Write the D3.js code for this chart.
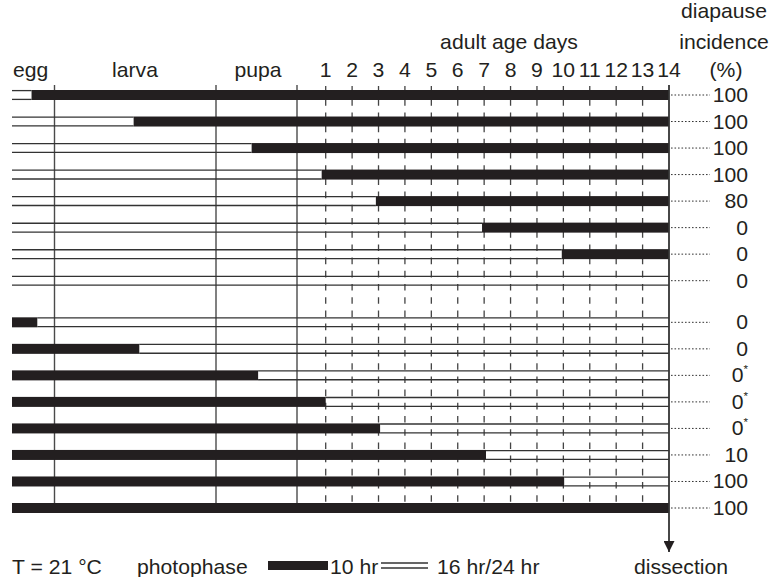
<!DOCTYPE html>
<html>
<head>
<meta charset="utf-8">
<script src="https://cdn.jsdelivr.net/npm/d3@7"></script>
<style>
  html, body { margin: 0; padding: 0; background: #fff; }
  svg { display: block; }
  text { font-family: "Liberation Sans", Arial, Helvetica, sans-serif; fill: #231f20; }
</style>
</head>
<body>
<svg id="chart" width="771" height="577"></svg>
<script>
// Timeline units: egg 0–1, larva 1–2, pupa 2–3, adult day d → 3 + d (dissection at day 14 → 17)
const stages = ["egg", "larva", "pupa"];
const stageBounds = [0, 1, 2, 3];
const adultDays = [1, 2, 3, 4, 5, 6, 7, 8, 9, 10, 11, 12, 13, 14];
const END = 17;

// Group A: long day (16 hr/24 hr) first, transferred to short day (10 hr) at the given point
const longToShortSwitch = [0.46, 1.49, 2.44, 3.86, 5.90, 9.92, 12.94, null];
const longToShortIncidence = ["100", "100", "100", "100", "80", "0", "0", "0"];

// Group B: short day (10 hr) first, transferred to long day at the given point
const shortToLongSwitch = [0.595, 1.525, 2.52, 4.0, 6.06, 10.07, 13.03, 17];
const shortToLongIncidence = ["0", "0", "0*", "0*", "0*", "10", "100", "100"];

const svg = d3.select("#chart");
const ink = "#231f20";
const lineCol = "#444";
const fs = 20, sx = 1.06;

const x = d3.scaleLinear()
  .domain([0, 1, 2, 3, 4, 17])
  .range([12, 54.5, 216, 297, 325.7, 669]);

const groupOffset = 8.57;
const y = d3.scaleLinear().domain([0, 7 + groupOffset]).range([95, 508]);

const rows = [];
longToShortSwitch.forEach((s, i) => rows.push({ idx: i, shortFirst: false, s: s === null ? END : s, label: longToShortIncidence[i] }));
shortToLongSwitch.forEach((s, i) => rows.push({ idx: i + groupOffset, shortFirst: true, s: s, label: shortToLongIncidence[i] }));

const yTop = 85, yBottom = 508;

// stage boundary lines
svg.append("g").selectAll("line").data(stageBounds.slice(1))
  .join("line")
  .attr("x1", d => x(d)).attr("x2", d => x(d))
  .attr("y1", yTop).attr("y2", yBottom)
  .attr("stroke", "#4a4a4a").attr("stroke-width", 1.4);

// adult day dashed lines
svg.append("g").selectAll("line").data(adultDays.slice(0, -1))
  .join("line")
  .attr("x1", d => x(3 + d)).attr("x2", d => x(3 + d))
  .attr("y1", yTop + 1).attr("y2", yBottom)
  .attr("stroke", lineCol).attr("stroke-width", 1.3)
  .attr("stroke-dasharray", "6.6,6.6");

// open (long day) segments drawn as double lines
const openSegs = rows.map(r => r.shortFirst ? { y: y(r.idx), a: r.s, b: END } : { y: y(r.idx), a: 0, b: r.s })
  .filter(d => d.b > d.a);
const gOpen = svg.append("g");
openSegs.forEach(d => {
  [-4.4, 4.4].forEach(off => {
    gOpen.append("line")
      .attr("x1", x(d.a)).attr("x2", x(d.b))
      .attr("y1", d.y + off).attr("y2", d.y + off)
      .attr("stroke", "#333").attr("stroke-width", 1.3);
  });
});

// filled (short day) segments
const blackSegs = rows.map(r => r.shortFirst ? { y: y(r.idx), a: 0, b: r.s } : { y: y(r.idx), a: r.s, b: END })
  .filter(d => d.b > d.a);
svg.append("g").selectAll("rect").data(blackSegs)
  .join("rect")
  .attr("x", d => x(d.a)).attr("width", d => x(d.b) - x(d.a))
  .attr("y", d => d.y - 5).attr("height", 10)
  .attr("fill", ink);

// dissection line with arrow
svg.append("defs").append("marker")
  .attr("id", "arrow").attr("viewBox", "0 0 10 10")
  .attr("refX", 10).attr("refY", 5)
  .attr("markerWidth", 15).attr("markerHeight", 11)
  .attr("markerUnits", "userSpaceOnUse")
  .attr("orient", "auto")
  .append("path").attr("d", "M0,0 L10,5 L0,10 Z").attr("fill", ink);
svg.append("line")
  .attr("x1", x(END)).attr("x2", x(END))
  .attr("y1", yTop).attr("y2", 552)
  .attr("stroke", "#333").attr("stroke-width", 1.8)
  .attr("marker-end", "url(#arrow)");

// dotted leaders and incidence labels
svg.append("g").selectAll("line").data(rows)
  .join("line")
  .attr("x1", x(END) + 2).attr("x2", 710)
  .attr("y1", d => y(d.idx)).attr("y2", d => y(d.idx))
  .attr("stroke", "#333").attr("stroke-width", 1)
  .attr("stroke-dasharray", "1.6,1.9");

function txt(str, tx, ty, anchor) {
  return svg.append("text")
    .attr("transform", `translate(${tx},${ty}) scale(${sx},1)`)
    .attr("text-anchor", anchor || "middle")
    .attr("font-size", fs)
    .text(str);
}

rows.forEach(r => {
  const star = r.label.endsWith("*");
  const t = svg.append("text")
    .attr("transform", `translate(748,${y(r.idx) + 7}) scale(${sx},1)`)
    .attr("text-anchor", "end")
    .attr("font-size", fs);
  t.append("tspan").text(star ? r.label.slice(0, -1) : r.label);
  if (star) t.append("tspan").attr("font-size", 11).attr("dy", -9).text("*");
});

// headers
const stageCenters = [30.7, 135, 258];
stages.forEach((s, i) => txt(s, stageCenters[i], 77));
adultDays.forEach(d => txt(String(d), x(3 + d), 77));
txt("adult age days", 509, 49);
txt("diapause", 724, 18);
txt("incidence", 724, 49);
txt("(%)", 726, 77);

// legend
const ly = 574;
txt("T = 21 °C", 12, ly, "start");
txt("photophase", 137, ly, "start");
svg.append("rect").attr("x", 268).attr("y", 561).attr("width", 60).attr("height", 9).attr("fill", ink);
txt("10 hr", 330, ly, "start");
[563, 568].forEach(yy => svg.append("line")
  .attr("x1", 381).attr("x2", 428).attr("y1", yy).attr("y2", yy)
  .attr("stroke", "#333").attr("stroke-width", 1.3));
txt("16 hr/24 hr", 437, ly, "start");
txt("dissection", 681, ly);
</script>
</body>
</html>
